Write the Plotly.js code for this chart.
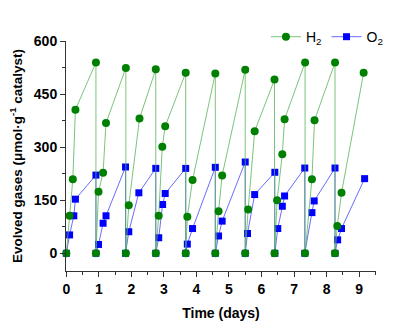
<!DOCTYPE html>
<html>
<head>
<meta charset="utf-8">
<script src="https://cdn.plot.ly/plotly-3.0.1.min.js"></script>
<style>html,body{margin:0;padding:0;background:#fff;}#chart{width:400px;height:321px;}</style>
</head>
<body>
<div id="chart"></div>
<script>
// Time (days) and evolved amounts (µmol·g-1 catalyst)
const h2Time = [0, 0.1, 0.2, 0.28, 0.91, 0.91, 0.99, 1.13, 1.22, 1.83, 1.83, 1.92, 2.25, 2.75, 2.75, 2.84, 2.95, 3.04, 3.67, 3.67, 3.72, 3.88, 4.58, 4.58, 4.68, 4.79, 5.50, 5.50, 5.59, 5.79, 6.40, 6.40, 6.48, 6.64, 6.71, 7.34, 7.34, 7.55, 7.63, 8.26, 8.26, 8.33, 8.46, 9.14];
const h2Values = [0, 106, 209, 406, 539, 0, 174, 228, 368, 524, 0, 136, 381, 520, 0, 106, 301, 359, 510, 0, 103, 207, 508, 0, 119, 220, 519, 0, 124, 345, 491, 0, 150, 280, 379, 539, 0, 209, 376, 539, 0, 77, 171, 510];
const o2Time = [0, 0.1, 0.23, 0.28, 0.91, 0.91, 0.99, 1.13, 1.22, 1.82, 1.82, 1.92, 2.23, 2.75, 2.75, 2.84, 2.96, 3.04, 3.67, 3.67, 3.72, 3.88, 4.58, 4.58, 4.68, 4.79, 5.50, 5.50, 5.57, 5.79, 6.41, 6.41, 6.50, 6.64, 6.71, 7.33, 7.33, 7.55, 7.62, 8.26, 8.26, 8.34, 8.46, 9.17];
const o2Values = [0, 52, 106, 153, 221, 0, 25, 85, 106, 244, 0, 61, 171, 240, 0, 44, 138, 169, 240, 0, 26, 70, 243, 0, 49, 91, 258, 0, 56, 166, 229, 0, 70, 133, 162, 241, 0, 115, 148, 241, 0, 38, 70, 211];
const xTickVals = [0, 1, 2, 3, 4, 5, 6, 7, 8, 9];
const yTickVals = [0, 150, 300, 450, 600];

const FONT = 'Liberation Sans, Arial, sans-serif';

const traces = [
  {
    x: o2Time, y: o2Values, name: 'O<sub>2</sub>', type: 'scatter', mode: 'lines+markers',
    line: {color: 'rgba(70,70,255,0.8)', width: 1},
    marker: {symbol: 'square', size: 7, color: '#0000ff'},
    cliponaxis: false, legendrank: 2
  },
  {
    x: h2Time, y: h2Values, name: 'H<sub>2</sub>', type: 'scatter', mode: 'lines+markers',
    line: {color: 'rgba(90,180,90,0.8)', width: 1},
    marker: {symbol: 'circle', size: 8, color: '#008000'},
    cliponaxis: false, legendrank: 1
  }
];

const layout = {
  width: 400, height: 321,
  margin: {l: 66, r: 20, t: 41, b: 50},
  paper_bgcolor: '#fff', plot_bgcolor: '#fff',
  showlegend: true,
  legend: {
    orientation: 'h', x: 0.645, xanchor: 'left', y: 1.017, yanchor: 'middle',
    font: {family: FONT, size: 14, color: '#000'},
    bgcolor: 'rgba(0,0,0,0)', borderwidth: 0, itemwidth: 30
  },
  xaxis: {
    range: [-0.01, 9.52],
    tickvals: xTickVals, ticktext: xTickVals.map(String),
    ticks: 'outside', ticklen: 5, tickwidth: 1, tickcolor: '#333',
    minor: {dtick: 0.5, ticks: 'outside', ticklen: 3, tickcolor: '#333'},
    showline: true, linecolor: '#333', linewidth: 1,
    showgrid: false, zeroline: false,
    tickfont: {family: FONT, size: 14, color: '#000', weight: 700},
    title: {text: 'Time (days)', font: {family: FONT, size: 14, color: '#000', weight: 700}, standoff: 12}
  },
  yaxis: {
    range: [-50, 600],
    tickvals: yTickVals, ticktext: yTickVals.map(String),
    ticks: 'outside', ticklen: 5, tickwidth: 1, tickcolor: '#333',
    minor: {dtick: 75, ticks: 'outside', ticklen: 3, tickcolor: '#333'},
    showline: true, linecolor: '#333', linewidth: 1,
    showgrid: false, zeroline: false,
    tickfont: {family: FONT, size: 14, color: '#000', weight: 700},
    title: {text: 'Evolved gases (μmol·g<sup>-1</sup> catalyst)', font: {family: FONT, size: 13.5, color: '#000', weight: 700}, standoff: 8}
  }
};

Plotly.newPlot('chart', traces, layout, {staticPlot: true, displayModeBar: false});
</script>
</body>
</html>
